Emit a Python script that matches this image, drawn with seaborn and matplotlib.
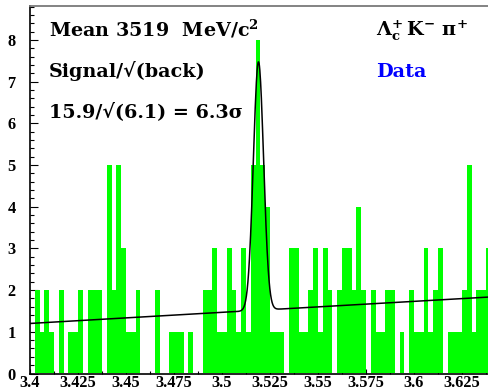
import numpy as np
import pandas as pd
import matplotlib
matplotlib.use("Agg")
import matplotlib.pyplot as plt
import seaborn as sns
from matplotlib.ticker import MultipleLocator

# Lambda_c+ K- pi+ invariant mass (GeV/c^2), 0.0025 wide bins starting at 3.400
bin_width = 0.0025
mass_start = 3.4
counts = [0,
          2, 1, 2, 1, 0, 2, 0, 1, 1, 2,
          0, 2, 2, 2, 0, 5, 2, 5, 3, 1,
          1, 2, 0, 0, 0, 2, 0, 0, 1, 1,
          1, 0, 1, 0, 0, 2, 2, 3, 1, 1,
          3, 2, 1, 3, 1, 5, 8, 5, 4, 1,
          1, 1, 0, 3, 3, 1, 1, 2, 3, 1,
          3, 2, 0, 2, 3, 3, 2, 4, 2, 0,
          2, 1, 1, 2, 2, 0, 1, 0, 2, 1,
          1, 3, 1, 2, 3, 0, 1, 1, 1, 2,
          5, 1, 2, 2, 3]

# Fit: gaussian peak on a linear background
fit_mean = 3.519
fit_sigma = 0.00266
fit_amp = 5.96
bkg_at_start = 1.20
bkg_slope = 2.65

x_ticks = [3.4, 3.425, 3.45, 3.475, 3.5, 3.525, 3.55, 3.575, 3.6, 3.625]
x_tick_labels = ["3.4", "3.425", "3.45", "3.475", "3.5", "3.525", "3.55", "3.575", "3.6", "3.625"]
y_ticks = [0, 1, 2, 3, 4, 5, 6, 7, 8]
y_tick_labels = ["0", "1", "2", "3", "4", "5", "6", "7", "8"]

n_bins = len(counts)
mass_stop = mass_start + bin_width * n_bins
centers = mass_start + bin_width * (np.arange(n_bins) + 0.5)
hist_df = pd.DataFrame({"mass": centers, "entries": counts})

fit_x = np.linspace(3.4, 3.64, 1200)
fit_y = (bkg_at_start + bkg_slope * (fit_x - mass_start)
         + fit_amp * np.exp(-0.5 * ((fit_x - fit_mean) / fit_sigma) ** 2))
fit_df = pd.DataFrame({"mass": fit_x, "fit": fit_y})

sns.set_style("ticks")
plt.rcParams.update({
    "text.color": "black",
    "xtick.color": "black",
    "ytick.color": "black",
    "axes.edgecolor": "black",
    "mathtext.fontset": "custom",
    "mathtext.rm": "DejaVu Serif:bold",
    "mathtext.it": "DejaVu Serif:bold",
    "mathtext.bf": "DejaVu Serif:bold",
})

W, H = 488, 392
PX_PER_GEV = 1920
fig = plt.figure(figsize=(W / 100, H / 100), dpi=100)
ax_left, ax_right = 30, 488
ax_bottom, ax_top = 373.5, 5.7
ax = fig.add_axes([ax_left / W, 1 - ax_bottom / H,
                   (ax_right - ax_left) / W, (ax_bottom - ax_top) / H])

sns.histplot(data=hist_df, x="mass", weights="entries",
             bins=n_bins, binrange=(mass_start, mass_stop),
             element="step", fill=True, color="#00ff00", alpha=1.0,
             linewidth=0, ax=ax)
sns.lineplot(data=fit_df, x="mass", y="fit", color="black", linewidth=1.1, ax=ax)

ax.set_xlim(3.4, 3.4 + (ax_right - ax_left) / PX_PER_GEV)
ax.set_ylim(0, (ax_bottom - ax_top) / 41.7)
ax.set_xlabel("")
ax.set_ylabel("")

tick_font = {"family": "Liberation Serif", "weight": "bold", "size": 11.8}
ax.set_xticks(x_ticks)
ax.set_xticklabels(x_tick_labels, fontdict=tick_font)
ax.set_yticks(y_ticks)
ax.set_yticklabels(y_tick_labels, fontdict=tick_font)
ax.xaxis.set_minor_locator(MultipleLocator(0.0125))
ax.yaxis.set_minor_locator(MultipleLocator(0.2))
ax.tick_params(axis="x", which="major", direction="in", length=3.6, width=0.8, pad=1)
ax.tick_params(axis="x", which="minor", direction="in", length=2.0, width=0.8)
ax.tick_params(axis="y", which="major", direction="in", length=6.0, width=0.8, pad=10.5)
ax.tick_params(axis="y", which="minor", direction="in", length=3.0, width=0.8)

ax.spines["right"].set_visible(False)
ax.spines["top"].set_color("#7a7a7a")
ax.spines["top"].set_linewidth(1.3)
ax.spines["left"].set_linewidth(1.2)
ax.spines["bottom"].set_linewidth(1.2)

txt = {"family": "DejaVu Serif", "weight": "bold", "size": 13.8, "color": "black"}


def put(x, y, s, **kw):
    fig.text(x / W, 1 - y / H, s, va="baseline", ha="left", **{**txt, **kw})


put(49, 36, "Mean 3519  MeV/c$^{2}$")
put(49, 77, "Signal/\u221a(back)")
put(49, 117.5, "15.9/\u221a(6.1) = 6.3\u03c3")
put(376, 36, r"$\Lambda_{c}^{+}\,\mathrm{K}^{-}\ \pi^{+}$")
put(376, 77, "Data", color="#0000ff")

fig.savefig("out.png", dpi=100)
